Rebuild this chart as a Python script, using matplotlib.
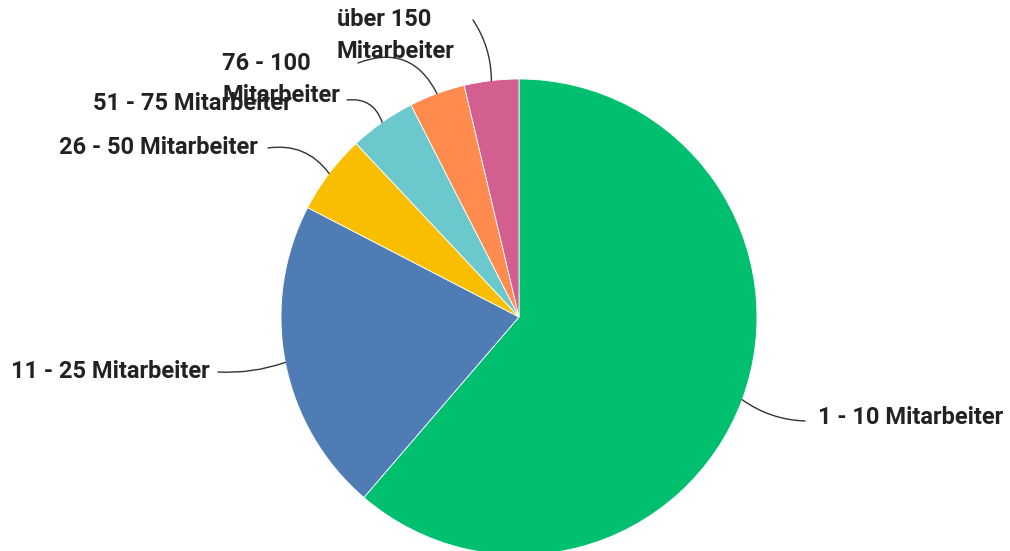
import numpy as np
import matplotlib.pyplot as plt

labels = ["1 - 10 Mitarbeiter", "11 - 25 Mitarbeiter", "26 - 50 Mitarbeiter",
          "51 - 75 Mitarbeiter", "76 - 100\nMitarbeiter", "über 150\nMitarbeiter"]
values = [61.3, 21.3, 5.4, 4.5, 3.8, 3.7]
colors = ["#00BF6F", "#507CB6", "#F9BE00", "#6BC8CD", "#FF8B4F", "#D25F90"]

W, H = 1010, 551
fig = plt.figure(figsize=(W / 100, H / 100), dpi=100)
ax = fig.add_axes([0, 0, 1, 1])

cx, cy, r = 519, H - 317, 238
wedges, _ = ax.pie(values, colors=colors, startangle=90, counterclock=False,
                   center=(cx, cy), radius=r, frame=True,
                   wedgeprops=dict(edgecolor="white", linewidth=0.6))
ax.set_xlim(0, W)
ax.set_ylim(0, H)
ax.axis("off")

# label layout in pixel coords (x, y from top): leader end, text anchor, align, curve
layout = [
    ((805, 421), (818, 418), "left", 0.15),
    ((218, 372), (210, 371), "right", -0.1),
    ((268, 148), (258, 148), "right", 0.3),
    ((347, 100), (292, 104), "right", 0.4),
    ((358, 63), (222, 79), "left", 0.45),
    ((473, 20), (337, 36), "left", 0.15),
]

font = dict(family=["Roboto", "DejaVu Sans"], fontweight="bold", fontsize=17,
            color="#222222", linespacing=1.5)

for w, (end, txt, ha, rad) in zip(wedges, layout):
    mid = np.deg2rad((w.theta1 + w.theta2) / 2)
    px, py = cx + r * np.cos(mid), cy + r * np.sin(mid)
    ax.annotate("", xy=(end[0], H - end[1]), xytext=(px, py),
                arrowprops=dict(arrowstyle="-", color="#333333", lw=1.0,
                                shrinkA=0, shrinkB=0,
                                connectionstyle=f"arc3,rad={rad}"))

for lab, (end, txt, ha, rad) in zip(labels, layout):
    ax.text(txt[0], H - txt[1], lab, ha=ha, va="center", **font)

fig.savefig("out.png", dpi=100)
